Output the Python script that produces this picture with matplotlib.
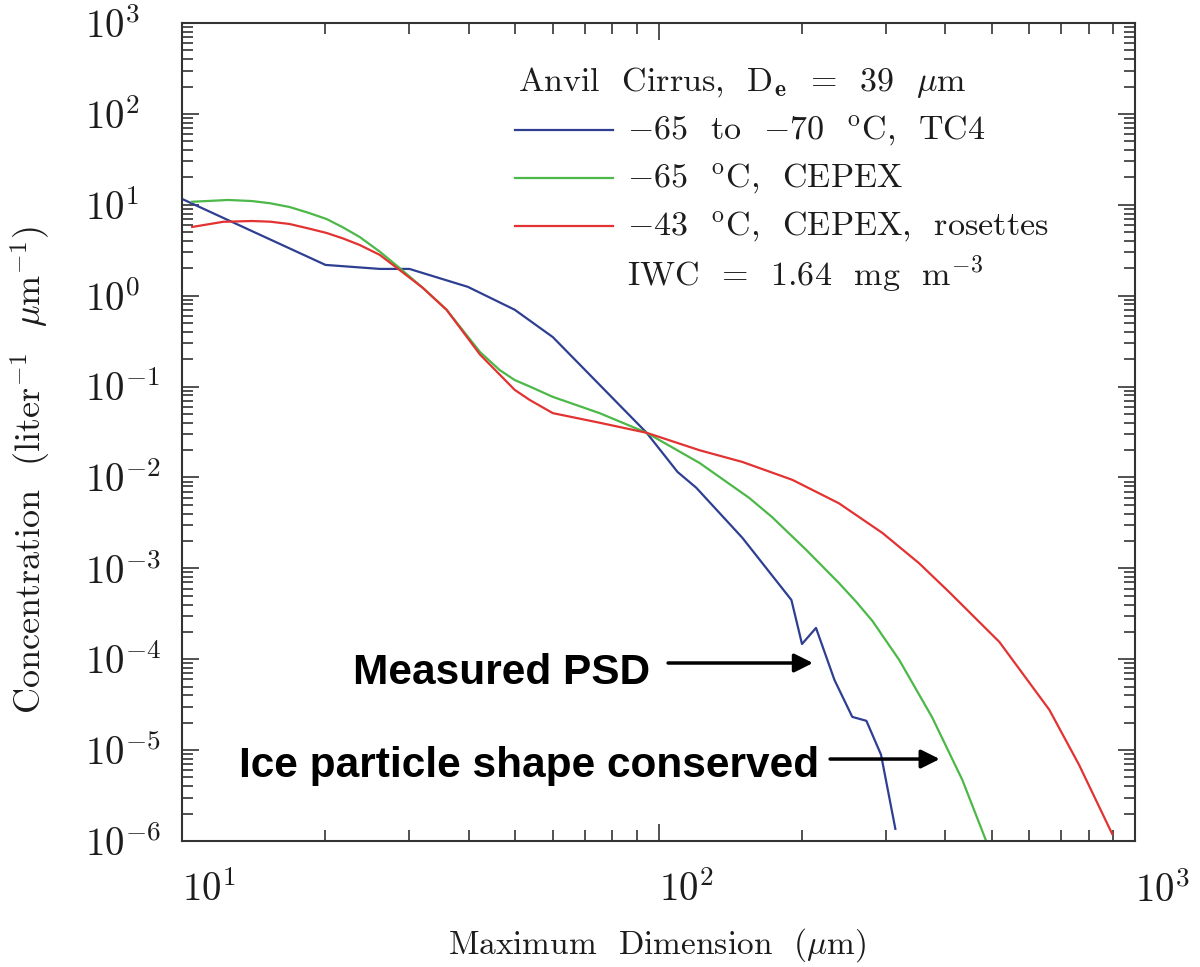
import matplotlib
matplotlib.use("Agg")
import matplotlib.pyplot as plt

# values (x in um, y in liter^-1 um^-1)
tc4_x = [10, 20, 26, 30, 39.8, 49.9, 60, 94.4, 109.6, 120, 150, 190, 200,
         214, 234, 255, 273, 293, 314]
tc4_y = [11.6, 2.18, 1.97, 1.97, 1.25, 0.70, 0.35, 0.031, 0.0115, 0.0077,
         0.00216, 4.49e-4, 1.47e-4, 2.21e-4, 5.9e-5, 2.32e-5, 2.1e-5,
         8.9e-6, 1.36e-6]

cepex65_x = [10.5, 12.5, 14.0, 15.3, 16.8, 18.4, 20.1, 21.75, 23.6, 26.0,
             28.6, 32.0, 35.9, 42.2, 46.4, 49.9, 53.7, 60, 75.2, 94.4, 122,
             155, 173, 204, 239, 260, 281, 320, 375, 434, 487]
cepex65_y = [10.8, 11.3, 11.0, 10.4, 9.46, 8.18, 6.98, 5.65, 4.42, 3.05,
             2.02, 1.22, 0.70, 0.24, 0.152, 0.118, 0.10, 0.077, 0.051, 0.031,
             0.0144, 0.00595, 0.00367, 0.00160, 6.9e-4, 4.27e-4, 2.64e-4,
             9.8e-5, 2.3e-5, 4.7e-6, 1e-6]

cepex43_x = [10.5, 12.2, 14.0, 15.3, 16.8, 18.4, 20.1, 21.75, 23.6, 26.0,
             28.6, 32.0, 35.9, 42.2, 49.9, 53.7, 60, 75.2, 94.4, 122, 150,
             191, 239, 295, 352, 407, 519, 661, 763, 895]
cepex43_y = [5.7, 6.5, 6.63, 6.52, 6.15, 5.5, 4.9, 4.27, 3.61, 2.81, 1.92,
             1.22, 0.70, 0.225, 0.092, 0.071, 0.051, 0.040, 0.031, 0.0199,
             0.0148, 0.0094, 0.0052, 0.00245, 0.00114, 5.5e-4, 1.55e-4,
             2.77e-5, 6.87e-6, 1.2e-6]

y_decades = list(range(-6, 4))
x_decades = [1, 2, 3]

BLUE = "#2e3f92"
GREEN = "#4cb848"
RED = "#e23232"
INK = "#1c1c1c"

plt.rcParams["mathtext.fontset"] = "cm"
plt.rcParams["font.family"] = ["cmr10", "DejaVu Serif"]
plt.rcParams["axes.formatter.use_mathtext"] = True

fig = plt.figure(figsize=(12, 9.67), dpi=100)
ax = fig.add_axes([0.1517, 0.1303, 0.7942, 0.8459])

ax.plot(tc4_x, tc4_y, color=BLUE, lw=1.6)
ax.plot(cepex65_x, cepex65_y, color=GREEN, lw=1.6)
ax.plot(cepex43_x, cepex43_y, color=RED, lw=1.6)

ax.set_xscale("log")
ax.set_yscale("log")
ax.set_xlim(10, 1000)
ax.set_ylim(1e-6, 1e3)

ax.set_yticks([10.0 ** d for d in y_decades])
ax.set_yticklabels([r"$10^{%d}$" % d for d in y_decades])
ax.set_xticks([10.0 ** d for d in x_decades])
ax.set_xticklabels([r"$10^{%d}$" % d for d in x_decades])

for sp in ax.spines.values():
    sp.set_color("#333333")
    sp.set_linewidth(1.5)

ax.tick_params(which="both", direction="in", top=True, right=True,
               color="#333333", width=1.2, labelcolor=INK, labelsize=28)
ax.tick_params(which="major", length=12)
ax.tick_params(which="minor", length=8)
ax.tick_params(axis="y", pad=70)
ax.tick_params(axis="x", pad=22)
for lab in ax.get_yticklabels():
    lab.set_horizontalalignment("left")
for lab in ax.get_xticklabels():
    lab.set_horizontalalignment("left")

fig.text(0.5475, 0.0227, r"Maximum  Dimension  ($\mu$m)", ha="center",
         va="center", fontsize=24, color=INK)
fig.text(0.026, 0.514, r"Concentration  (liter$^{-1}$  $\mu$m$^{-1}$)",
         ha="center", va="center", rotation=90, fontsize=26, color=INK)

# legend block
ax.text(0.352, 0.927, r"Anvil  Cirrus,  D$_{\mathbf{e}}$  =  39  $\mu$m",
        transform=ax.transAxes, fontsize=24.5, color=INK, va="center")
legend_rows = [
    (BLUE, 0.869, r"$-$65  to  $-$70  $^{\rm o}$C,  TC4"),
    (GREEN, 0.811, r"$-$65  $^{\rm o}$C,  CEPEX"),
    (RED, 0.752, r"$-$43  $^{\rm o}$C,  CEPEX,  rosettes"),
]
for col, yy, txt in legend_rows:
    ax.plot([0.349, 0.452], [yy, yy], transform=ax.transAxes, color=col, lw=1.6)
    ax.text(0.467, yy, txt, transform=ax.transAxes, fontsize=24.5, color=INK,
            va="center")
ax.text(0.467, 0.694, r"IWC  =  1.64  mg  m$^{-3}$", transform=ax.transAxes,
        fontsize=24.5, color=INK, va="center")

# annotations
bold = dict(family="Liberation Sans", weight="bold", fontsize=30.5,
            color="black", transform=ax.transAxes, va="baseline", ha="right")
ax.text(0.491, 0.192, "Measured PSD", **bold)
ax.text(0.669, 0.078, "Ice particle shape conserved", **bold)
arrow = dict(arrowstyle="-|>", color="black", lw=2.5, mutation_scale=28,
             shrinkA=0, shrinkB=0)
ax.annotate("", xy=(0.662, 0.2176), xytext=(0.510, 0.2176),
            xycoords="axes fraction", arrowprops=arrow)
ax.annotate("", xy=(0.795, 0.1002), xytext=(0.680, 0.1002),
            xycoords="axes fraction", arrowprops=arrow)

fig.savefig("out.png", dpi=100)
